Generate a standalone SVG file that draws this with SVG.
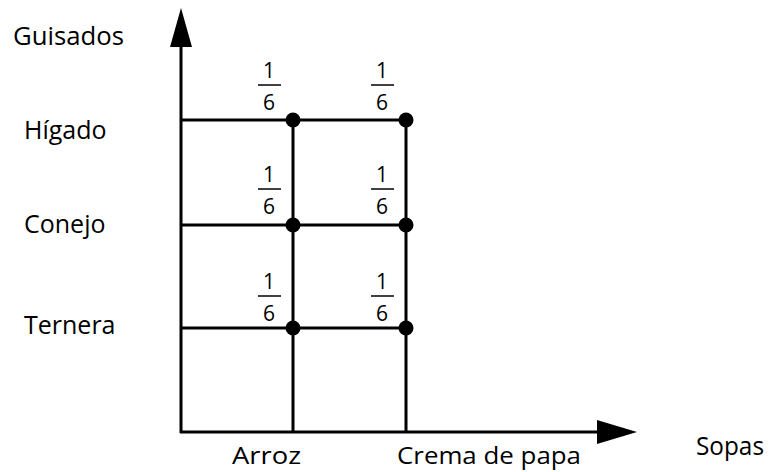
<svg xmlns="http://www.w3.org/2000/svg" width="777" height="472" viewBox="0 0 777 472">
<style>
.ln{stroke:#000;stroke-width:3;fill:none}
.t{font-family:"Open Sans","Liberation Sans",sans-serif;font-size:25px;fill:#000}
.b{font-size:24px}
.f{font-family:"Open Sans","Liberation Sans",sans-serif;font-size:21px;fill:#000;text-anchor:middle}
.bar{stroke:#000;stroke-width:1.5}
</style>
<rect width="777" height="472" fill="#fff"/>
<g id="connectors">
<line class="ln" x1="181" y1="433" x2="181" y2="40"/>
<polygon points="181,8 170,47 192,47" fill="#000"/>
<line class="ln" x1="180" y1="432" x2="605" y2="432"/>
<polygon points="637,432 597,420 597,444" fill="#000"/>
<line class="ln" x1="181" y1="120" x2="406" y2="120"/>
<line class="ln" x1="181" y1="225" x2="406" y2="225"/>
<line class="ln" x1="181" y1="328" x2="406" y2="328"/>
<line class="ln" x1="293" y1="120" x2="293" y2="432"/>
<line class="ln" x1="406" y1="120" x2="406" y2="432"/>
</g>
<g id="axis-labels">
<text class="t" x="13" y="45" textLength="111" lengthAdjust="spacingAndGlyphs">Guisados</text>
<text class="t" x="696" y="455" textLength="68" lengthAdjust="spacingAndGlyphs">Sopas</text>
</g>
<g id="row-higado"><text class="t" x="24" y="139">Hígado</text></g>
<g id="row-conejo"><text class="t" x="24" y="233">Conejo</text></g>
<g id="row-ternera"><text class="t" x="24" y="334">Ternera</text></g>
<g id="col-arroz"><text class="t b" x="232" y="464" textLength="69" lengthAdjust="spacingAndGlyphs">Arroz</text></g>
<g id="col-crema"><text class="t b" x="397" y="464" textLength="184" lengthAdjust="spacingAndGlyphs">Crema de papa</text></g>
<g id="p11"><circle cx="293" cy="120" r="7.5"/><text class="f" x="269" y="78">1</text><line class="bar" x1="258" y1="85" x2="281" y2="85"/><text class="f" x="269" y="110">6</text></g>
<g id="p12"><circle cx="406" cy="120" r="7.5"/><text class="f" x="382" y="78">1</text><line class="bar" x1="371" y1="85" x2="394" y2="85"/><text class="f" x="382" y="110">6</text></g>
<g id="p21"><circle cx="293" cy="225" r="7.5"/><text class="f" x="269" y="182">1</text><line class="bar" x1="258" y1="189" x2="281" y2="189"/><text class="f" x="269" y="214">6</text></g>
<g id="p22"><circle cx="406" cy="225" r="7.5"/><text class="f" x="382" y="182">1</text><line class="bar" x1="371" y1="189" x2="394" y2="189"/><text class="f" x="382" y="214">6</text></g>
<g id="p31"><circle cx="293" cy="328" r="7.5"/><text class="f" x="269" y="289">1</text><line class="bar" x1="258" y1="296" x2="281" y2="296"/><text class="f" x="269" y="321">6</text></g>
<g id="p32"><circle cx="406" cy="328" r="7.5"/><text class="f" x="382" y="289">1</text><line class="bar" x1="371" y1="296" x2="394" y2="296"/><text class="f" x="382" y="321">6</text></g>
</svg>
